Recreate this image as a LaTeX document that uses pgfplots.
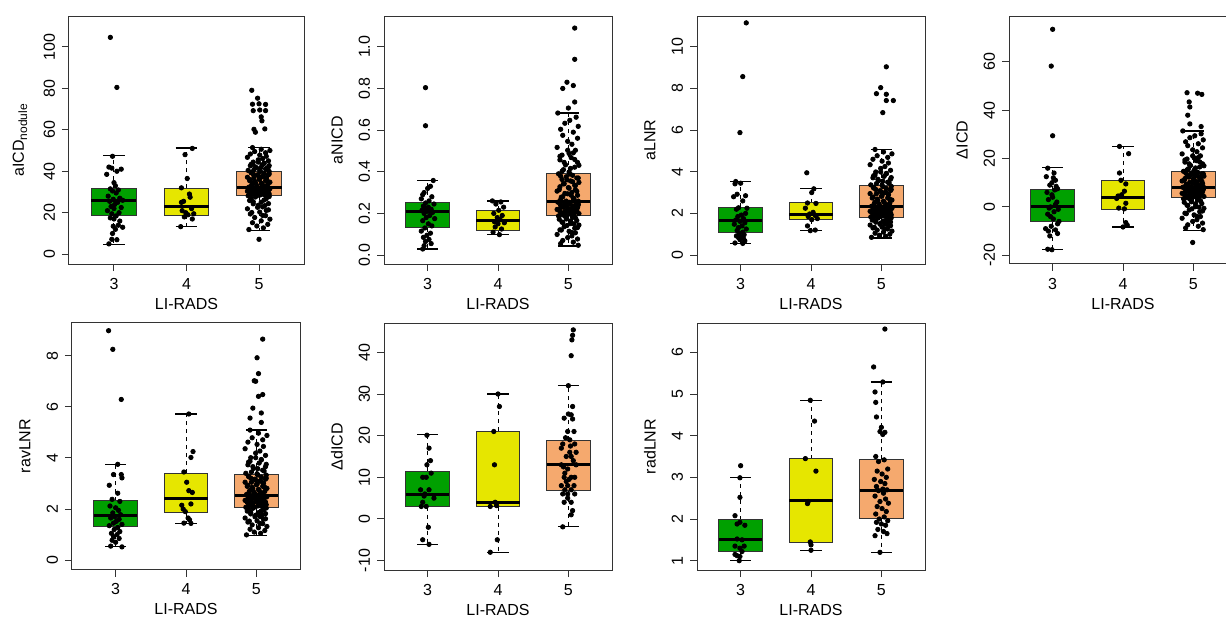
\documentclass[border=0pt]{standalone}
\usepackage{fontspec}
\setmainfont{Liberation Sans}
\usepackage{pgfplots}
\usepackage{pgfplotstable}
\pgfplotsset{compat=1.18}
\usepgfplotslibrary{statistics}
\definecolor{lr3}{HTML}{00A000}
\definecolor{lr4}{HTML}{E6E600}
\definecolor{lr5}{HTML}{F5A96E}

% LI-RADS 5 points (a = aICD, b = aNICD, c = aLNR, d = dICD, e = ravLNR)
\pgfplotstableread{
x a b c d e
2.86 11.9 0.188 0.85 3.4 0.99
3.06 12.7 0.181 0.90 2.8 1.05
2.97 13.6 0.173 0.95 2.1 1.10
3.12 14.4 0.166 1.00 1.4 1.16
2.91 15.2 0.158 1.05 0.7 1.21
3.03 16.1 0.151 1.10 0.1 1.27
3.15 16.9 0.144 1.15 -0.6 1.32
2.94 17.7 0.136 1.20 -1.3 1.38
3.09 18.6 0.129 1.25 -2.0 1.43
2.88 19.4 0.121 1.30 -2.6 1.49
3.01 20.3 0.114 1.34 -3.3 1.54
3.10 21.1 0.107 1.39 -4.0 1.60
2.84 21.9 0.099 1.44 -4.7 1.65
3.05 22.8 0.092 1.49 -5.3 1.71
2.99 23.6 0.084 1.54 -6.0 1.76
3.13 24.4 0.077 1.59 -6.7 1.82
2.92 25.3 0.070 1.64 -7.4 1.87
3.07 26.1 0.062 1.69 -8.0 1.93
2.89 26.9 0.055 1.74 -8.7 1.98
3.14 27.8 0.047 1.79 -9.4 2.04
2.85 28.2 0.254 1.83 8.1 2.07
3.11 28.4 0.251 1.85 7.9 2.10
3.02 28.6 0.247 1.88 7.7 2.12
2.95 28.8 0.244 1.90 7.4 2.15
3.14 29.0 0.241 1.93 7.2 2.17
2.89 29.2 0.238 1.95 7.0 2.20
3.07 29.4 0.235 1.98 6.8 2.22
2.92 29.6 0.231 2.00 6.5 2.25
3.13 29.8 0.228 2.03 6.3 2.27
2.99 30.0 0.225 2.05 6.1 2.30
3.05 30.2 0.222 2.08 5.9 2.32
2.84 30.4 0.219 2.10 5.6 2.34
3.10 30.6 0.215 2.13 5.4 2.37
3.01 30.8 0.212 2.15 5.2 2.39
2.88 31.0 0.209 2.18 5.0 2.42
3.09 31.2 0.206 2.20 4.7 2.44
2.94 31.4 0.203 2.23 4.5 2.47
3.15 31.6 0.199 2.25 4.3 2.49
3.03 31.8 0.196 2.28 4.1 2.52
2.91 32.0 0.193 2.30 3.8 2.54
2.86 32.3 0.390 2.34 14.7 2.57
3.06 32.7 0.383 2.39 14.3 2.61
2.97 33.1 0.376 2.44 14.0 2.65
3.12 33.5 0.370 2.49 13.7 2.69
2.91 33.9 0.363 2.54 13.3 2.73
3.03 34.3 0.356 2.59 13.0 2.77
3.15 34.7 0.349 2.64 12.7 2.81
2.94 35.1 0.342 2.69 12.4 2.85
3.09 35.5 0.335 2.74 12.0 2.89
2.88 35.9 0.328 2.79 11.7 2.93
3.01 36.3 0.321 2.85 11.4 2.97
3.10 36.7 0.314 2.90 11.0 3.01
2.84 37.1 0.307 2.95 10.7 3.05
3.05 37.5 0.301 3.00 10.4 3.09
2.99 37.9 0.294 3.05 10.0 3.13
3.13 38.3 0.287 3.10 9.7 3.17
2.92 38.7 0.280 3.15 9.4 3.21
3.07 39.1 0.273 3.20 9.1 3.25
2.89 39.5 0.266 3.25 8.7 3.29
3.14 39.9 0.259 3.30 8.4 3.33
2.85 40.4 0.682 3.37 31.4 3.40
3.11 41.0 0.662 3.46 30.2 3.49
3.02 41.6 0.647 3.55 29.4 3.58
2.95 42.1 0.633 3.64 28.6 3.66
3.14 42.7 0.618 3.72 27.7 3.75
2.89 43.3 0.604 3.81 26.9 3.84
3.07 43.8 0.590 3.90 26.1 3.92
2.92 44.4 0.575 3.99 25.3 4.01
3.13 45.0 0.561 4.07 24.4 4.10
2.99 45.5 0.546 4.16 23.6 4.19
3.05 46.1 0.532 4.25 22.8 4.27
2.84 46.7 0.517 4.34 21.9 4.36
3.10 47.2 0.503 4.42 21.1 4.45
3.01 47.8 0.488 4.51 20.3 4.53
2.88 48.3 0.474 4.60 19.4 4.62
3.09 48.9 0.459 4.69 18.6 4.71
2.94 49.5 0.445 4.77 17.8 4.79
3.15 50.0 0.431 4.86 17.0 4.88
3.03 50.6 0.416 4.95 16.1 4.97
2.91 51.4 0.402 5.07 15.3 5.09
2.97 28.2 0.193 1.83 3.8 2.07
3.08 28.5 0.197 1.86 4.2 2.11
2.90 28.8 0.202 1.90 4.5 2.14
3.04 29.0 0.206 1.93 4.7 2.17
2.95 29.3 0.210 1.96 5.1 2.21
3.12 29.6 0.215 2.00 5.4 2.24
2.87 29.8 0.219 2.03 5.6 2.27
3.00 30.1 0.223 2.06 6.0 2.31
3.10 30.4 0.227 2.10 6.3 2.34
2.93 30.6 0.231 2.13 6.5 2.37
3.06 30.9 0.236 2.16 6.9 2.40
2.98 31.2 0.240 2.20 7.2 2.44
3.14 31.4 0.244 2.23 7.4 2.47
2.89 31.7 0.249 2.26 7.8 2.50
3.02 32.0 0.253 2.30 8.1 2.54
2.97 32.3 0.259 2.34 8.4 2.57
3.08 32.9 0.269 2.41 8.9 2.63
2.90 33.5 0.278 2.48 9.3 2.69
3.04 33.9 0.287 2.54 9.7 2.73
2.95 34.5 0.296 2.61 10.2 2.79
3.12 35.1 0.306 2.68 10.6 2.85
2.87 35.5 0.314 2.74 11.0 2.89
3.00 36.1 0.324 2.82 11.5 2.95
3.10 36.7 0.334 2.89 12.0 3.01
2.93 37.1 0.342 2.95 12.4 3.05
3.06 37.7 0.352 3.02 12.8 3.11
2.98 38.3 0.361 3.09 13.3 3.17
3.14 38.7 0.370 3.15 13.7 3.21
2.89 39.3 0.379 3.22 14.1 3.27
3.02 39.9 0.389 3.29 14.6 3.33
3.01 40.3 0.399 3.36 15.1 3.38
2.93 40.8 0.410 3.43 15.8 3.45
3.09 41.2 0.422 3.50 16.5 3.52
2.96 41.7 0.433 3.57 17.1 3.59
3.13 42.1 0.445 3.64 17.8 3.66
2.88 42.6 0.457 3.71 18.5 3.73
3.04 43.0 0.468 3.78 19.1 3.80
2.91 43.5 0.480 3.85 19.8 3.87
3.07 43.9 0.491 3.92 20.4 3.94
2.99 44.4 0.503 3.99 21.1 4.01
2.95 27.6 0.187 1.78 3.3 2.03
3.10 26.8 0.179 1.73 2.6 1.97
2.87 25.9 0.172 1.68 1.9 1.92
3.03 25.1 0.164 1.63 1.3 1.86
2.92 24.3 0.157 1.58 0.6 1.81
3.08 23.4 0.150 1.53 -0.1 1.75
2.98 22.6 0.142 1.48 -0.8 1.70
3.13 21.4 0.132 1.41 -1.7 1.62
2.90 20.1 0.120 1.33 -2.8 1.53
3.05 18.7 0.108 1.26 -3.9 1.44
}\gfive

\pgfplotsset{
  panel/.style={
    scale only axis, anchor=north west,
    width=114pt, height=124pt,
    xmin=0.38, xmax=3.62,
    xtick={1,2,3}, xticklabels={3,4,5},
    xlabel={LI-RADS},
    tick pos=left, tick align=outside,
    major tick length=3.5pt,
    axis line style={black!80, line width=0.5pt},
    every tick/.style={black!80, line width=0.5pt},
    font=\fontsize{8}{9.6}\selectfont,
    /pgf/number format/assume math mode=true,
    yticklabel style={rotate=90, anchor=south},
    every axis x label/.style={at={([yshift=-19.8pt]axis description cs:0.5,0)}, anchor=center},
    every axis y label/.style={at={([xshift=-23.5pt]axis description cs:0,0.5)}, rotate=90, anchor=center},
    boxplot/draw direction=y,
    boxplot/box extend=0.62,
    boxplot/whisker extend=0.3,
    boxplot/every median/.style={line width=1.5pt, black},
    boxplot/every box/.style={draw=black!80, line width=0.5pt},
    boxplot/draw/lower whisker/.code={%
      \draw[black, line width=0.5pt, dash pattern=on 2pt off 2pt]
        (boxplot box cs:\pgfplotsboxplotvalue{lower quartile},0.5) --
        (boxplot box cs:\pgfplotsboxplotvalue{lower whisker},0.5);
      \draw[black, line width=0.6pt]
        (boxplot whisker cs:\pgfplotsboxplotvalue{lower whisker},0) --
        (boxplot whisker cs:\pgfplotsboxplotvalue{lower whisker},1);
    },
    boxplot/draw/upper whisker/.code={%
      \draw[black, line width=0.5pt, dash pattern=on 2pt off 2pt]
        (boxplot box cs:\pgfplotsboxplotvalue{upper quartile},0.5) --
        (boxplot box cs:\pgfplotsboxplotvalue{upper whisker},0.5);
      \draw[black, line width=0.6pt]
        (boxplot whisker cs:\pgfplotsboxplotvalue{upper whisker},0) --
        (boxplot whisker cs:\pgfplotsboxplotvalue{upper whisker},1);
    },
  },
  pts/.style={only marks, mark=*, mark size=1.1pt, black, mark options={draw=black, fill=black}},
  b3/.style={boxplot/every box/.append style={fill=lr3}},
  b4/.style={boxplot/every box/.append style={fill=lr4}},
  b5/.style={boxplot/every box/.append style={fill=lr5}},
}

\begin{document}
\begin{tikzpicture}
\useasboundingbox (0,0) rectangle (613pt,-308pt);

% ---------- aICD nodule
\begin{axis}[panel, at={(34.5pt,-8pt)}, width=117.5pt,
  ymin=-4.7, ymax=114.8, ytick={0,20,...,100},
  ylabel={aICD\textsubscript{nodule}},
  every axis y label/.style={at={([xshift=-24.5pt]axis description cs:0,0.5)}, rotate=90, anchor=center}]
\addplot[b3, boxplot prepared={draw position=1, lower whisker=4.8, lower quartile=18.9, median=25.7, upper quartile=31.8, upper whisker=47.4}] coordinates {};
\addplot[b4, boxplot prepared={draw position=2, lower whisker=13.3, lower quartile=18.9, median=23, upper quartile=31.8, upper whisker=51.2}] coordinates {};
\addplot[b5, boxplot prepared={draw position=3, lower whisker=11.4, lower quartile=28.1, median=32.1, upper quartile=40.1, upper whisker=51.4}] coordinates {};
\addplot[pts] coordinates {(0.98,47.2)(0.93,42)(0.97,41.5)(1.10,41)(0.90,38.5)(1.04,40)(1.00,34.5)(1.02,33)(0.95,31.5)(0.98,30.5)(1.06,31)(1.03,29.5)(0.92,28)(1.08,27)(0.99,26.5)(1.12,26)(0.94,25.5)(1.05,25)(1.01,24)(0.96,23)(1.10,22.5)(1.00,22)(0.91,21)(1.07,20)(0.97,19.5)(1.03,18.5)(0.95,17.5)(1.00,17)(1.08,16)(1.06,14)(0.99,13.5)(1.12,13)(1.02,12)(0.98,10)(0.97,7.2)(1.04,7)(0.93,5)(0.95,104.5)(1.04,80.4)};
\addplot[pts] coordinates {(2.08,51)(1.98,48)(2.01,36.5)(1.93,32)(2.04,29)(2.05,27.5)(1.96,25.5)(1.93,25)(2.07,22)(1.94,21)(1.99,20)(2.10,19.5)(2.02,19)(1.97,18)(2.08,17)(1.92,13.3)};
\addplot[pts] table[x=x, y=a] {\gfive};
\addplot[pts] coordinates {(2.90,79)(2.98,75.2)(2.91,72.3)(3.00,72.5)(3.09,72.2)(2.92,69.2)(3.01,69.5)(3.09,69.2)(3.03,66.2)(3.04,64.3)(2.93,60.2)(3.08,60.4)(2.95,58.8)(3.00,7.2)};
\end{axis}

% ---------- aNICD
\begin{axis}[panel, at={(192pt,-8pt)},
  ymin=-0.043, ymax=1.148, ytick={0,0.2,...,1.0},
  yticklabel style={/pgf/number format/fixed, /pgf/number format/fixed zerofill, /pgf/number format/precision=1},
  ylabel={aNICD}]
\addplot[b3, boxplot prepared={draw position=1, lower whisker=0.029, lower quartile=0.132, median=0.207, upper quartile=0.25, upper whisker=0.358}] coordinates {};
\addplot[b4, boxplot prepared={draw position=2, lower whisker=0.098, lower quartile=0.12, median=0.165, upper quartile=0.215, upper whisker=0.26}] coordinates {};
\addplot[b5, boxplot prepared={draw position=3, lower whisker=0.043, lower quartile=0.191, median=0.255, upper quartile=0.393, upper whisker=0.682}] coordinates {};
\addplot[pts] coordinates {(1.08,0.358)(1.04,0.33)(1.00,0.32)(0.95,0.30)(0.93,0.29)(1.06,0.28)(0.91,0.27)(1.02,0.26)(0.97,0.25)(1.09,0.245)(0.94,0.235)(1.01,0.23)(0.96,0.225)(1.05,0.22)(0.92,0.215)(0.99,0.21)(1.07,0.205)(0.95,0.20)(1.03,0.19)(0.98,0.18)(1.10,0.175)(0.93,0.165)(1.01,0.15)(1.06,0.14)(0.96,0.13)(0.91,0.115)(1.04,0.105)(0.99,0.095)(0.94,0.085)(1.02,0.075)(0.97,0.065)(1.05,0.055)(0.95,0.045)(0.93,0.029)(0.97,0.804)(0.97,0.621)};
\addplot[pts] coordinates {(1.92,0.26)(2.04,0.255)(1.97,0.245)(2.08,0.23)(2.01,0.215)(1.94,0.20)(2.06,0.19)(1.99,0.18)(2.03,0.17)(1.95,0.16)(2.09,0.155)(2.00,0.15)(1.96,0.135)(2.05,0.125)(1.93,0.11)(2.02,0.098)};
\addplot[pts] table[x=x, y=b] {\gfive};
\addplot[pts] coordinates {(3.00,0.706)(3.09,0.735)(2.92,0.80)(3.07,0.814)(2.98,0.83)(3.09,0.94)(3.09,1.09)};
\end{axis}

% ---------- aLNR
\begin{axis}[panel, at={(348.5pt,-8pt)},
  ymin=-0.43, ymax=11.48, ytick={0,2,...,10},
  ylabel={aLNR}]
\addplot[b3, boxplot prepared={draw position=1, lower whisker=0.56, lower quartile=1.06, median=1.64, upper quartile=2.30, upper whisker=3.53}] coordinates {};
\addplot[b4, boxplot prepared={draw position=2, lower whisker=1.17, lower quartile=1.69, median=1.94, upper quartile=2.52, upper whisker=3.18}] coordinates {};
\addplot[b5, boxplot prepared={draw position=3, lower whisker=0.82, lower quartile=1.81, median=2.31, upper quartile=3.32, upper whisker=5.07}] coordinates {};
\addplot[pts] coordinates {(0.93,3.53)(1.00,3.45)(0.92,3.42)(0.95,2.92)(1.07,2.85)(0.90,2.8)(1.03,2.6)(0.97,2.27)(1.09,2.25)(0.94,2.2)(1.07,2.0)(1.01,1.92)(0.96,1.85)(1.04,1.75)(0.93,1.68)(0.99,1.62)(1.06,1.55)(0.91,1.48)(1.02,1.4)(0.97,1.32)(1.08,1.25)(0.95,1.18)(1.03,1.1)(0.98,1.04)(1.05,0.98)(0.94,0.92)(1.01,0.88)(0.97,0.84)(1.04,0.8)(0.99,0.74)(1.06,0.68)(0.92,0.58)(1.03,0.56)(0.99,5.88)(1.03,8.57)(1.08,11.15)};
\addplot[pts] coordinates {(1.94,3.95)(2.04,3.18)(2.01,3.0)(1.95,2.5)(2.07,2.48)(1.92,2.25)(2.03,2.05)(1.98,1.97)(2.06,1.9)(1.96,1.85)(2.09,1.75)(2.01,1.7)(1.95,1.4)(2.06,1.2)(1.99,1.17)};
\addplot[pts] table[x=x, y=c] {\gfive};
\addplot[pts] coordinates {(2.93,7.75)(3.07,7.72)(3.07,7.42)(3.17,7.42)(3.02,6.84)(2.99,8.04)(3.07,9.04)};
\end{axis}

% ---------- dICD
\begin{axis}[panel, at={(504.5pt,-8pt)},
  ymin=-23.6, ymax=78.9, ytick={-20,0,...,60},
  ylabel={ΔICD}]
\addplot[b3, boxplot prepared={draw position=1, lower whisker=-17.7, lower quartile=-5.95, median=0, upper quartile=7.19, upper whisker=16.2}] coordinates {};
\addplot[b4, boxplot prepared={draw position=2, lower whisker=-8.3, lower quartile=-1.1, median=4.0, upper quartile=10.9, upper whisker=25}] coordinates {};
\addplot[b5, boxplot prepared={draw position=3, lower whisker=-9.8, lower quartile=3.7, median=8.2, upper quartile=14.8, upper whisker=31.4}] coordinates {};
\addplot[pts] coordinates {(0.93,16)(0.91,12.5)(1.01,12)(1.04,11)(0.99,10)(1.07,7.5)(1.03,7)(0.99,5)(0.94,3)(1.04,1)(0.97,0)(1.08,-1)(0.93,-3)(1.01,-5)(1.07,-7)(0.90,-9)(0.94,-10)(1.07,-11)(0.93,-17.5)(0.99,-17.7)(1.02,14)(0.96,9)(1.05,8.5)(0.92,6)(1.00,4)(1.06,2)(0.95,-0.5)(1.02,-2)(0.97,-4)(1.09,-6)(0.98,-8)(1.04,-9.5)(0.96,-12)(1.00,73.4)(0.98,58.2)(1.00,29.4)};
\addplot[pts] coordinates {(1.95,25)(2.08,22)(1.95,14)(1.97,11)(2.04,9.5)(2.02,6.5)(1.93,4.5)(1.91,3.5)(2.04,1.5)(1.94,-0.5)(2.02,-0.8)(2.04,-6.5)(2.00,-8.3)(2.06,-7.5)(1.98,5)};
\addplot[pts] table[x=x, y=d] {\gfive};
\addplot[pts] coordinates {(2.91,47.2)(3.06,47.0)(3.12,46.5)(2.94,43.4)(2.95,41.3)(2.92,37.9)(2.95,34.3)(3.11,33.2)(2.99,-14.7)};
\end{axis}

% ---------- ravLNR
\begin{axis}[panel, at={(36pt,-161.25pt)}, height=123.5pt,
  ymin=-0.365, ymax=9.30, ytick={0,2,...,8},
  ylabel={ravLNR}]
\addplot[b3, boxplot prepared={draw position=1, lower whisker=0.52, lower quartile=1.30, median=1.76, upper quartile=2.32, upper whisker=3.75}] coordinates {};
\addplot[b4, boxplot prepared={draw position=2, lower whisker=1.42, lower quartile=1.86, median=2.40, upper quartile=3.41, upper whisker=5.72}] coordinates {};
\addplot[b5, boxplot prepared={draw position=3, lower whisker=0.96, lower quartile=2.06, median=2.55, upper quartile=3.35, upper whisker=5.09}] coordinates {};
\addplot[pts] coordinates {(1.03,3.75)(0.97,3.35)(1.08,3.35)(1.09,3.22)(0.91,2.93)(1.03,2.62)(0.95,2.38)(1.06,2.3)(0.92,2.12)(1.00,2.05)(1.04,1.95)(0.96,1.85)(1.07,1.78)(0.99,1.7)(0.93,1.65)(1.05,1.6)(1.01,1.52)(0.97,1.45)(1.09,1.4)(0.91,1.35)(1.03,1.28)(0.98,1.2)(1.06,1.12)(0.94,1.05)(1.02,1.0)(0.97,0.92)(1.05,0.85)(0.95,0.78)(1.00,0.7)(0.93,0.55)(1.09,0.52)(1.08,6.29)(0.96,8.25)(0.90,8.98)};
\addplot[pts] coordinates {(2.04,5.72)(2.10,4.25)(2.07,4.02)(1.97,3.45)(2.01,3.05)(2.04,2.72)(2.09,2.65)(2.07,2.2)(1.94,2.15)(1.96,2.0)(1.99,1.9)(2.03,1.65)(2.05,1.58)(1.97,1.45)(2.07,1.44)};
\addplot[pts] table[x=x, y=e] {\gfive};
\addplot[pts] coordinates {(3.07,5.39)(2.91,5.56)(3.07,5.76)(2.95,5.95)(3.03,6.41)(3.09,6.48)(2.97,7.02)(2.99,7.0)(3.03,7.30)(3.01,7.92)(3.09,8.65)};
\end{axis}

% ---------- ddICD
\begin{axis}[panel, at={(192pt,-161.5pt)}, height=123.5pt,
  ymin=-12.26, ymax=47.05, ytick={-10,0,...,40},
  ylabel={ΔdICD}]
\addplot[b3, boxplot prepared={draw position=1, lower whisker=-6.1, lower quartile=2.97, median=5.93, upper quartile=11.5, upper whisker=20.2}] coordinates {};
\addplot[b4, boxplot prepared={draw position=2, lower whisker=-8, lower quartile=2.97, median=4.0, upper quartile=21.1, upper whisker=30}] coordinates {};
\addplot[b5, boxplot prepared={draw position=3, lower whisker=-1.9, lower quartile=6.9, median=13.0, upper quartile=18.9, upper whisker=32}] coordinates {};
\addplot[pts] coordinates {(0.99,20.1)(1.02,17)(1.04,14)(0.99,13)(0.93,10)(0.98,10)(0.90,7)(1.02,7)(1.09,5)(0.93,4)(0.91,3)(0.98,3)(1.01,-2)(0.93,-5)(1.02,-6.1)(0.96,6)(1.05,11)(0.95,5.5)};
\addplot[pts] coordinates {(2.00,30)(2.02,27)(1.94,21)(1.95,13)(1.96,4)(1.89,3)(1.98,3.2)(1.99,-5)(1.89,-8)};
\addplot[pts] coordinates {(3.00,32)(3.06,27)(3.00,25.2)(3.04,25)(2.94,24.2)(3.06,24)(2.99,21)(3.02,19)(2.92,18)(3.09,18)(2.90,17)(3.02,16)(3.11,16)(2.97,15)(3.04,15)(2.90,13)(3.11,13)(2.99,12)(2.94,10)(3.04,10)(3.09,10)(2.97,9)(2.90,8)(2.99,8)(3.08,8)(3.04,7)(2.92,6)(2.99,6)(3.09,6)(2.99,5)(2.94,4)(3.04,4)(3.06,2)(3.04,1)(2.92,-1.9)(3.07,14)(2.95,11)(3.03,17.5)(2.96,19.5)(3.08,21)(2.93,12.5)(3.01,9.5)(2.95,7)(3.04,39.2)(3.05,43)(3.06,44.1)(3.07,45.4)};
\end{axis}

% ---------- radLNR
\begin{axis}[panel, at={(348.5pt,-161.5pt)}, height=123.5pt,
  ymin=0.776, ymax=6.705, ytick={1,...,6},
  ylabel={radLNR}]
\addplot[b3, boxplot prepared={draw position=1, lower whisker=1.0, lower quartile=1.22, median=1.51, upper quartile=1.98, upper whisker=2.99}] coordinates {};
\addplot[b4, boxplot prepared={draw position=2, lower whisker=1.24, lower quartile=1.44, median=2.45, upper quartile=3.45, upper whisker=4.85}] coordinates {};
\addplot[b5, boxplot prepared={draw position=3, lower whisker=1.2, lower quartile=2.01, median=2.69, upper quartile=3.43, upper whisker=5.29}] coordinates {};
\addplot[pts] coordinates {(1.00,3.28)(0.99,2.99)(0.99,2.52)(0.92,2.08)(0.99,1.92)(0.95,1.88)(1.06,1.85)(0.95,1.52)(1.02,1.50)(0.92,1.35)(1.05,1.35)(0.99,1.30)(1.02,1.22)(0.92,1.15)(0.95,1.12)(0.99,1.10)(0.98,1.0)};
\addplot[pts] coordinates {(1.99,4.85)(2.05,4.35)(1.92,3.45)(2.07,3.15)(1.96,2.42)(1.95,2.37)(1.99,1.45)(2.00,1.38)(2.00,1.25)};
\addplot[pts] coordinates {(3.02,5.29)(2.91,5.05)(2.92,4.8)(2.93,4.45)(3.00,4.2)(2.98,4.1)(3.05,4.08)(3.02,4.03)(2.92,3.5)(3.04,3.42)(2.96,3.38)(3.09,3.2)(2.94,3.15)(3.01,3.08)(3.07,3.0)(2.90,2.95)(2.99,2.9)(3.05,2.85)(2.93,2.78)(3.02,2.72)(3.08,2.7)(2.96,2.68)(3.03,2.62)(2.91,2.55)(3.06,2.48)(2.98,2.42)(3.10,2.38)(2.94,2.3)(3.01,2.25)(3.07,2.18)(2.92,2.12)(3.04,2.05)(2.97,2.0)(3.09,1.96)(2.93,1.92)(3.00,1.88)(3.06,1.85)(2.95,1.75)(3.03,1.7)(3.08,1.65)(2.91,1.6)(2.98,1.2)(2.89,5.65)(3.05,6.56)};
\end{axis}
\end{tikzpicture}
\end{document}
